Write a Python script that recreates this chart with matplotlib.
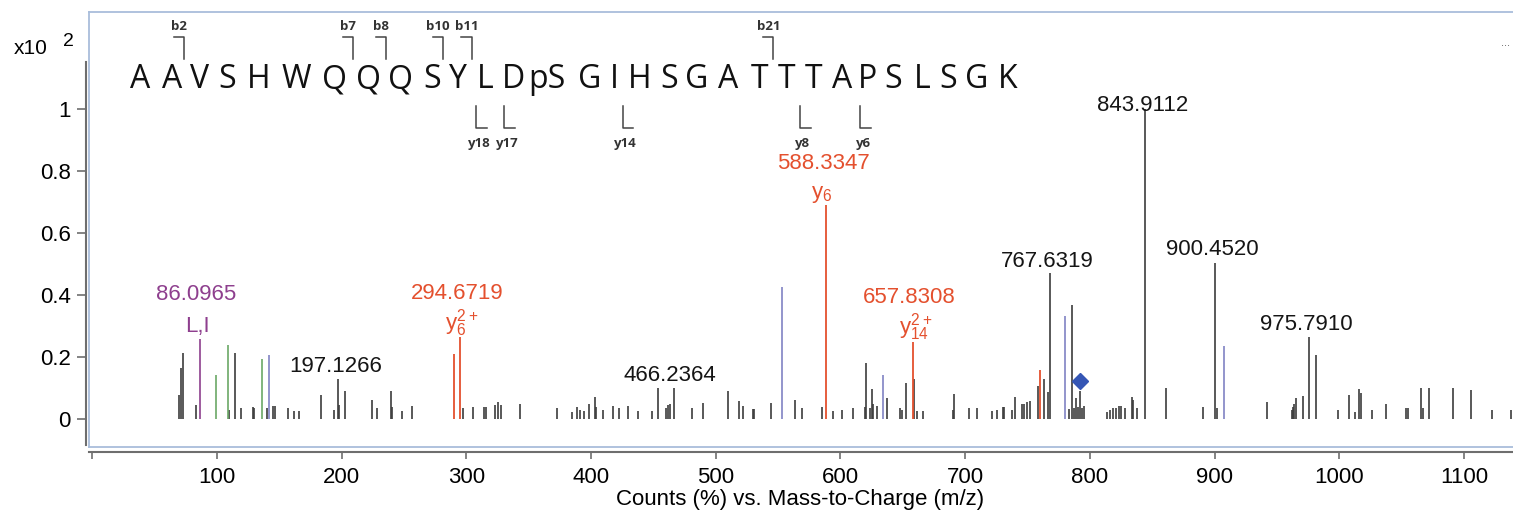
import numpy as np
import matplotlib.pyplot as plt
from matplotlib.lines import Line2D

W, H = 1513, 512

# peaks: (m/z, relative height in units of x10^2 counts)
black_mz = [69.2, 71.3, 72.7, 83.2, 110.0, 114.7, 119.0, 128.5, 129.5, 140.0, 145.2, 146.2,
            156.6, 162.0, 165.5, 183.6, 194.0, 197.1266, 198.2, 203.0, 224.3, 228.6, 239.3,
            240.3, 248.6, 256.0, 297.5, 305.5, 314.5, 315.5, 323.0, 325.0, 327.7, 343.0,
            373.0, 384.4, 388.5, 391.0, 394.3, 398.6, 403.0, 404.3, 409.8, 417.8, 422.6,
            429.8, 437.8, 449.0, 453.9, 459.8, 461.9, 463.5, 466.2364, 481.2, 490.0, 510.0,
            518.3, 522.0, 529.5, 530.5, 544.0, 563.5, 569.0, 585.0, 593.8, 601.0, 610.3,
            619.7, 620.5, 623.6, 625.3, 626.3, 629.0, 637.0, 647.7, 649.0, 652.5, 658.8,
            661.0, 666.4, 690.0, 691.0, 703.3, 709.2, 721.2, 725.3, 730.0, 731.2, 737.3,
            740.3, 745.5, 747.5, 749.5, 752.0, 758.6, 763.3, 766.0, 767.6319, 783.0, 786.0,
            787.5, 789.0, 790.5, 792.0, 793.5, 795.6, 814.0, 816.0, 818.5, 821.0, 823.5,
            825.0, 828.0, 833.5, 834.5, 838.0, 843.9112, 861.0, 891.0, 900.4520, 902.0,
            941.8, 962.0, 963.0, 964.0, 965.5, 971.0, 975.7910, 981.3, 999.2, 1008.0,
            1012.7, 1016.0, 1017.5, 1026.0, 1037.5, 1053.5, 1055.4, 1065.3, 1067.0, 1072.0,
            1091.0, 1106.0, 1122.7, 1137.5]
black_h = [0.078, 0.165, 0.215, 0.046, 0.03, 0.215, 0.035, 0.04, 0.038, 0.035, 0.042, 0.042,
           0.035, 0.028, 0.028, 0.078, 0.03, 0.13, 0.045, 0.09, 0.063, 0.035, 0.09,
           0.04, 0.028, 0.042, 0.035, 0.04, 0.04, 0.04, 0.045, 0.055, 0.045, 0.05,
           0.035, 0.025, 0.04, 0.03, 0.028, 0.05, 0.073, 0.04, 0.03, 0.042, 0.035,
           0.042, 0.028, 0.028, 0.1, 0.035, 0.045, 0.05, 0.1, 0.035, 0.052, 0.09,
           0.06, 0.042, 0.032, 0.032, 0.052, 0.063, 0.035, 0.04, 0.028, 0.03, 0.035,
           0.04, 0.183, 0.035, 0.097, 0.05, 0.042, 0.068, 0.035, 0.03, 0.116, 0.13,
           0.028, 0.028, 0.03, 0.083, 0.035, 0.035, 0.028, 0.03, 0.04, 0.04, 0.03,
           0.073, 0.05, 0.05, 0.055, 0.06, 0.108, 0.13, 0.088, 0.472, 0.033, 0.37,
           0.035, 0.068, 0.04, 0.09, 0.035, 0.042, 0.025, 0.03, 0.035, 0.038, 0.042,
           0.042, 0.035, 0.073, 0.062, 0.035, 1.0, 0.1, 0.04, 0.505, 0.035,
           0.057, 0.03, 0.04, 0.05, 0.068, 0.075, 0.267, 0.208, 0.03, 0.078,
           0.025, 0.097, 0.085, 0.03, 0.05, 0.035, 0.035, 0.1, 0.035, 0.1,
           0.1, 0.093, 0.03, 0.03]

red_mz = [290.0, 294.6719, 588.3347, 657.8308, 760.0]
red_h = [0.21, 0.265, 0.69, 0.25, 0.16]

purple_mz = [86.0965]
purple_h = [0.26]

green_mz = [99.2, 108.6, 135.8]
green_h = [0.143, 0.24, 0.193]

blue_mz = [141.5, 552.8, 634.4, 780.0, 907.8]
blue_h = [0.207, 0.427, 0.143, 0.333, 0.236]

precursor_mz = 792.0
precursor_h = 0.125

# labelled peaks and their ion annotation
label_mz = [86.0965, 197.1266, 294.6719, 466.2364, 588.3347, 657.8308,
            767.6319, 843.9112, 900.4520, 975.7910]
label_ion = ['L,I', '', r'$\mathregular{y_6^{2+}}$', '', r'$\mathregular{y_6}$',
             r'$\mathregular{y_{14}^{2+}}$', '', '', '', '']

sequence = ['A', 'A', 'V', 'S', 'H', 'W', 'Q', 'Q', 'Q', 'S', 'Y', 'L', 'D', 'pS', 'G',
            'I', 'H', 'S', 'G', 'A', 'T', 'T', 'T', 'A', 'P', 'S', 'L', 'S', 'G', 'K']
b_ions = ['b2', 'b7', 'b8', 'b10', 'b11', 'b21']
y_ions = ['y18', 'y17', 'y14', 'y8', 'y6']

BLACK = '#3c3c3c'
RED = '#e4502e'
PURPLE = '#8e3f8e'
GREEN = '#6ba866'
BLUE = '#8a8cc8'
FRAME = '#a9bddb'
AXIS = '#6e6e6e'

plt.rcParams['font.family'] = ['Liberation Sans', 'DejaVu Sans']

fig = plt.figure(figsize=(W / 100, H / 100), dpi=100)


def fx(px):
    return px / W


def fy(py):
    return 1 - py / H


left, top, bottom = 89, 12, 447
ax = fig.add_axes([fx(left), fy(bottom), (W - left) / W, (bottom - top) / H])

# pixel -> data mapping
x0, xs = 92.3, 1.247
y0, ys = 419.3, 310.0
ax.set_xlim((left - x0) / xs, (W - x0) / xs)
ax.set_ylim((y0 - bottom) / ys, (y0 - top) / ys)

ax.vlines(black_mz, 0, black_h, colors=BLACK, lw=1.2)
ax.vlines(green_mz, 0, green_h, colors=GREEN, lw=1.2)
ax.vlines(blue_mz, 0, blue_h, colors=BLUE, lw=1.3)
ax.vlines(purple_mz, 0, purple_h, colors=PURPLE, lw=1.2)
ax.vlines(red_mz, 0, red_h, colors=RED, lw=1.3)
ax.plot([precursor_mz], [precursor_h], marker='D', ms=8, color='#3556b5', ls='none')

all_mz = np.array(black_mz + red_mz + purple_mz + green_mz + blue_mz)
all_h = np.array(black_h + red_h + purple_h + green_h + blue_h)
label_color = {86.0965: PURPLE, 294.6719: RED, 588.3347: RED, 657.8308: RED}
num_off = {86.0965: (-4, 44), 197.1266: (-2, 12), 294.6719: (-3, 44), 466.2364: (-4, 13),
           588.3347: (-3, 42), 657.8308: (-3, 44), 767.6319: (-2, 11), 843.9112: (-2, 4),
           900.4520: (-3, 13), 975.7910: (-3, 12)}
ion_off = {86.0965: (-2, 12), 294.6719: (2, 14), 588.3347: (-4, 11), 657.8308: (3, 15)}

for mz, ion in zip(label_mz, label_ion):
    h = all_h[np.argmin(abs(all_mz - mz))]
    c = label_color.get(mz, '#151515')
    ax.annotate(f'{mz:.4f}', (mz, h), xytext=num_off[mz], textcoords='offset pixels',
                ha='center', va='center', fontsize=16, color=c)
    if ion:
        ax.annotate(ion, (mz, h), xytext=ion_off[mz], textcoords='offset pixels',
                    ha='center', va='center', fontsize=16, color=c)

# axes styling
for s in ['top', 'right']:
    ax.spines[s].set_visible(False)
ax.spines['left'].set_position(('outward', 2.2))
ax.spines['left'].set_bounds((y0 - 445) / ys, (y0 - 62) / ys)
ax.spines['bottom'].set_position(('outward', 3.3))
for s in ['left', 'bottom']:
    ax.spines[s].set_color(AXIS)
    ax.spines[s].set_linewidth(1.5)
for xa, ya in [([0, 1], [1, 1]), ([0, 0], [0, 1]), ([0, 1], [0, 0])]:
    ax.add_artist(Line2D(xa, ya, transform=ax.transAxes, color=FRAME, lw=1.3, clip_on=False))

ax.set_yticks([0, 0.2, 0.4, 0.6, 0.8, 1.0])
ax.set_yticklabels(['0', '0.2', '0.4', '0.6', '0.8', '1'])
xt = list(range(0, 1101, 100))
ax.set_xticks(xt)
ax.set_xticklabels([''] + [str(v) for v in xt[1:]])
ax.tick_params(axis='y', length=6.5, width=1.2, color=AXIS, pad=4.3, labelsize=16)
ax.tick_params(axis='x', length=4.8, width=1.2, color=AXIS, pad=6, labelsize=16)

fig.text(fx(800), fy(500), 'Counts (%) vs. Mass-to-Charge (m/z)', ha='center', va='center',
         fontsize=16)
fig.text(fx(14), fy(49), 'x10', ha='left', va='center', fontsize=15)
fig.text(fx(68.5), fy(42), '2', ha='center', va='center', fontsize=14)
fig.text(fx(1505), fy(43), '...', ha='center', va='center', fontsize=8, color='#555555')

# peptide sequence with fragment brackets
res_x = [140, 171.7, 199.3, 227.3, 258.3, 296, 335, 368.3, 400, 431.7, 458.3, 485, 513.3,
         546.7, 590, 614.3, 639.3, 669.3, 696.7, 728.3, 760, 786.7, 813.3, 841.7, 867.3,
         893.3, 922, 948, 977, 1008]
for r, px in zip(sequence, res_x):
    fig.text(fx(px), fy(80), r, ha='center', va='center', fontsize=23, family='Open Sans',
             fontweight='medium', color='#111111')

b_x = [184, 353.3, 386, 443.3, 471.7, 773.3]
y_x = [476, 504, 622.7, 800, 860]
lab_font = dict(fontsize=9.5, family='Open Sans', fontweight='bold', color='#333333')
for lab, px in zip(b_ions, b_x):
    fig.add_artist(Line2D([fx(px - 10.5), fx(px), fx(px)], [fy(37), fy(37), fy(59)],
                          color='#444444', lw=1.1))
    fig.text(fx(px - 5), fy(27), lab, ha='center', va='center', **lab_font)
for lab, px in zip(y_ions, y_x):
    fig.add_artist(Line2D([fx(px), fx(px), fx(px + 10.5)], [fy(106), fy(128), fy(128)],
                          color='#444444', lw=1.1))
    fig.text(fx(px + 3), fy(143), lab, ha='center', va='center', **lab_font)

fig.savefig('out.png', dpi=100)
